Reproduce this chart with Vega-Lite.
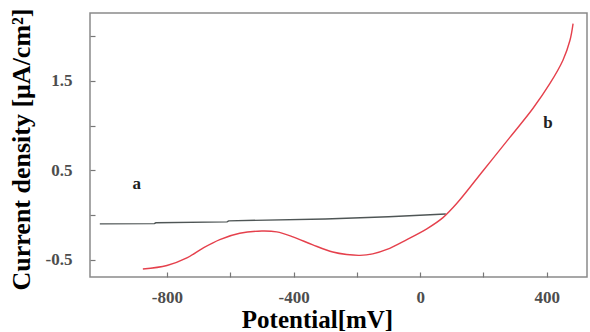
{
  "$schema": "https://vega.github.io/schema/vega-lite/v6.json",
  "width": 497,
  "height": 264,
  "autosize": "none",
  "padding": {"left": 90, "top": 13, "right": 3, "bottom": 55},
  "background": "white",
  "config": {
    "view": {"stroke": "#8a8a8a", "strokeWidth": 1.5},
    "font": "Liberation Serif"
  },
  "datasets": {
    "curveA": [
      {"potential": -1012, "current": -0.10},
      {"potential": -840, "current": -0.097},
      {"potential": -835, "current": -0.088},
      {"potential": -610, "current": -0.078},
      {"potential": -605, "current": -0.066},
      {"potential": -300, "current": -0.045},
      {"potential": -100, "current": -0.02},
      {"potential": 81, "current": 0.01}
    ],
    "curveB": [
      {"potential": -876, "current": -0.605},
      {"potential": -800, "current": -0.565},
      {"potential": -737, "current": -0.48},
      {"potential": -686, "current": -0.37},
      {"potential": -633, "current": -0.275},
      {"potential": -570, "current": -0.205},
      {"potential": -500, "current": -0.18},
      {"potential": -453, "current": -0.19},
      {"potential": -402, "current": -0.245},
      {"potential": -339, "current": -0.335},
      {"potential": -276, "current": -0.415},
      {"potential": -232, "current": -0.443},
      {"potential": -190, "current": -0.452},
      {"potential": -150, "current": -0.435},
      {"potential": -105, "current": -0.385},
      {"potential": -42, "current": -0.275},
      {"potential": 21, "current": -0.155},
      {"potential": 72, "current": -0.03},
      {"potential": 116, "current": 0.13},
      {"potential": 200, "current": 0.50},
      {"potential": 284, "current": 0.87},
      {"potential": 356, "current": 1.19},
      {"potential": 410, "current": 1.47},
      {"potential": 451, "current": 1.73},
      {"potential": 473, "current": 1.95},
      {"potential": 483, "current": 2.14}
    ],
    "labels": [
      {"potential": -895, "current": 0.345, "name": "a"},
      {"potential": 404, "current": 1.03, "name": "b"}
    ]
  },
  "encoding": {
    "x": {
      "field": "potential",
      "type": "quantitative",
      "scale": {"domain": [-1043, 527], "nice": false, "zero": false},
      "axis": {
        "title": "Potential[mV]",
        "values": [-800, -600, -400, -200, 0, 200, 400],
        "labelExpr": "datum.value % 400 == 0 ? '' + datum.value : ''",
        "domain": false,
        "grid": false,
        "tickSize": -5,
        "tickColor": "#777777",
        "tickWidth": 1.2,
        "labelPadding": 17,
        "labelFont": "Liberation Serif",
        "labelFontSize": 17,
        "labelFontWeight": "bold",
        "labelColor": "#4d4d4d",
        "titleFont": "Liberation Serif",
        "titleFontSize": 25,
        "titleFontWeight": "bold",
        "titleColor": "black",
        "titleX": 227,
        "titleY": 42,
        "titleBaseline": "middle"
      }
    },
    "y": {
      "field": "current",
      "type": "quantitative",
      "scale": {"domain": [-0.694, 2.258], "nice": false, "zero": false},
      "axis": {
        "title": "Current density [μA/cm²]",
        "values": [-0.5, 0, 0.5, 1, 1.5, 2],
        "labelExpr": "indexof(['-0.5','0.5','1.5'], '' + datum.value) >= 0 ? '' + datum.value : ''",
        "domain": false,
        "grid": false,
        "tickSize": -5,
        "tickColor": "#777777",
        "tickWidth": 1.2,
        "labelPadding": 23,
        "labelFont": "Liberation Serif",
        "labelFontSize": 17,
        "labelFontWeight": "bold",
        "labelColor": "#4d4d4d",
        "titleFont": "Liberation Serif",
        "titleFontSize": 26,
        "titleFontWeight": "bold",
        "titleColor": "black",
        "titleX": -69,
        "titleY": 136,
        "titleBaseline": "middle",
        "titleAngle": -90
      }
    }
  },
  "layer": [
    {
      "data": {"name": "curveA"},
      "mark": {"type": "line", "color": "#4f5656", "strokeWidth": 1.4}
    },
    {
      "data": {"name": "curveB"},
      "mark": {"type": "line", "color": "#e5404c", "strokeWidth": 1.4, "interpolate": "catmull-rom"}
    },
    {
      "data": {"name": "labels"},
      "mark": {"type": "text", "font": "Liberation Serif", "fontWeight": "bold", "fontSize": 17, "color": "#222222", "baseline": "middle", "align": "center"},
      "encoding": {"text": {"field": "name", "type": "nominal"}}
    }
  ]
}
